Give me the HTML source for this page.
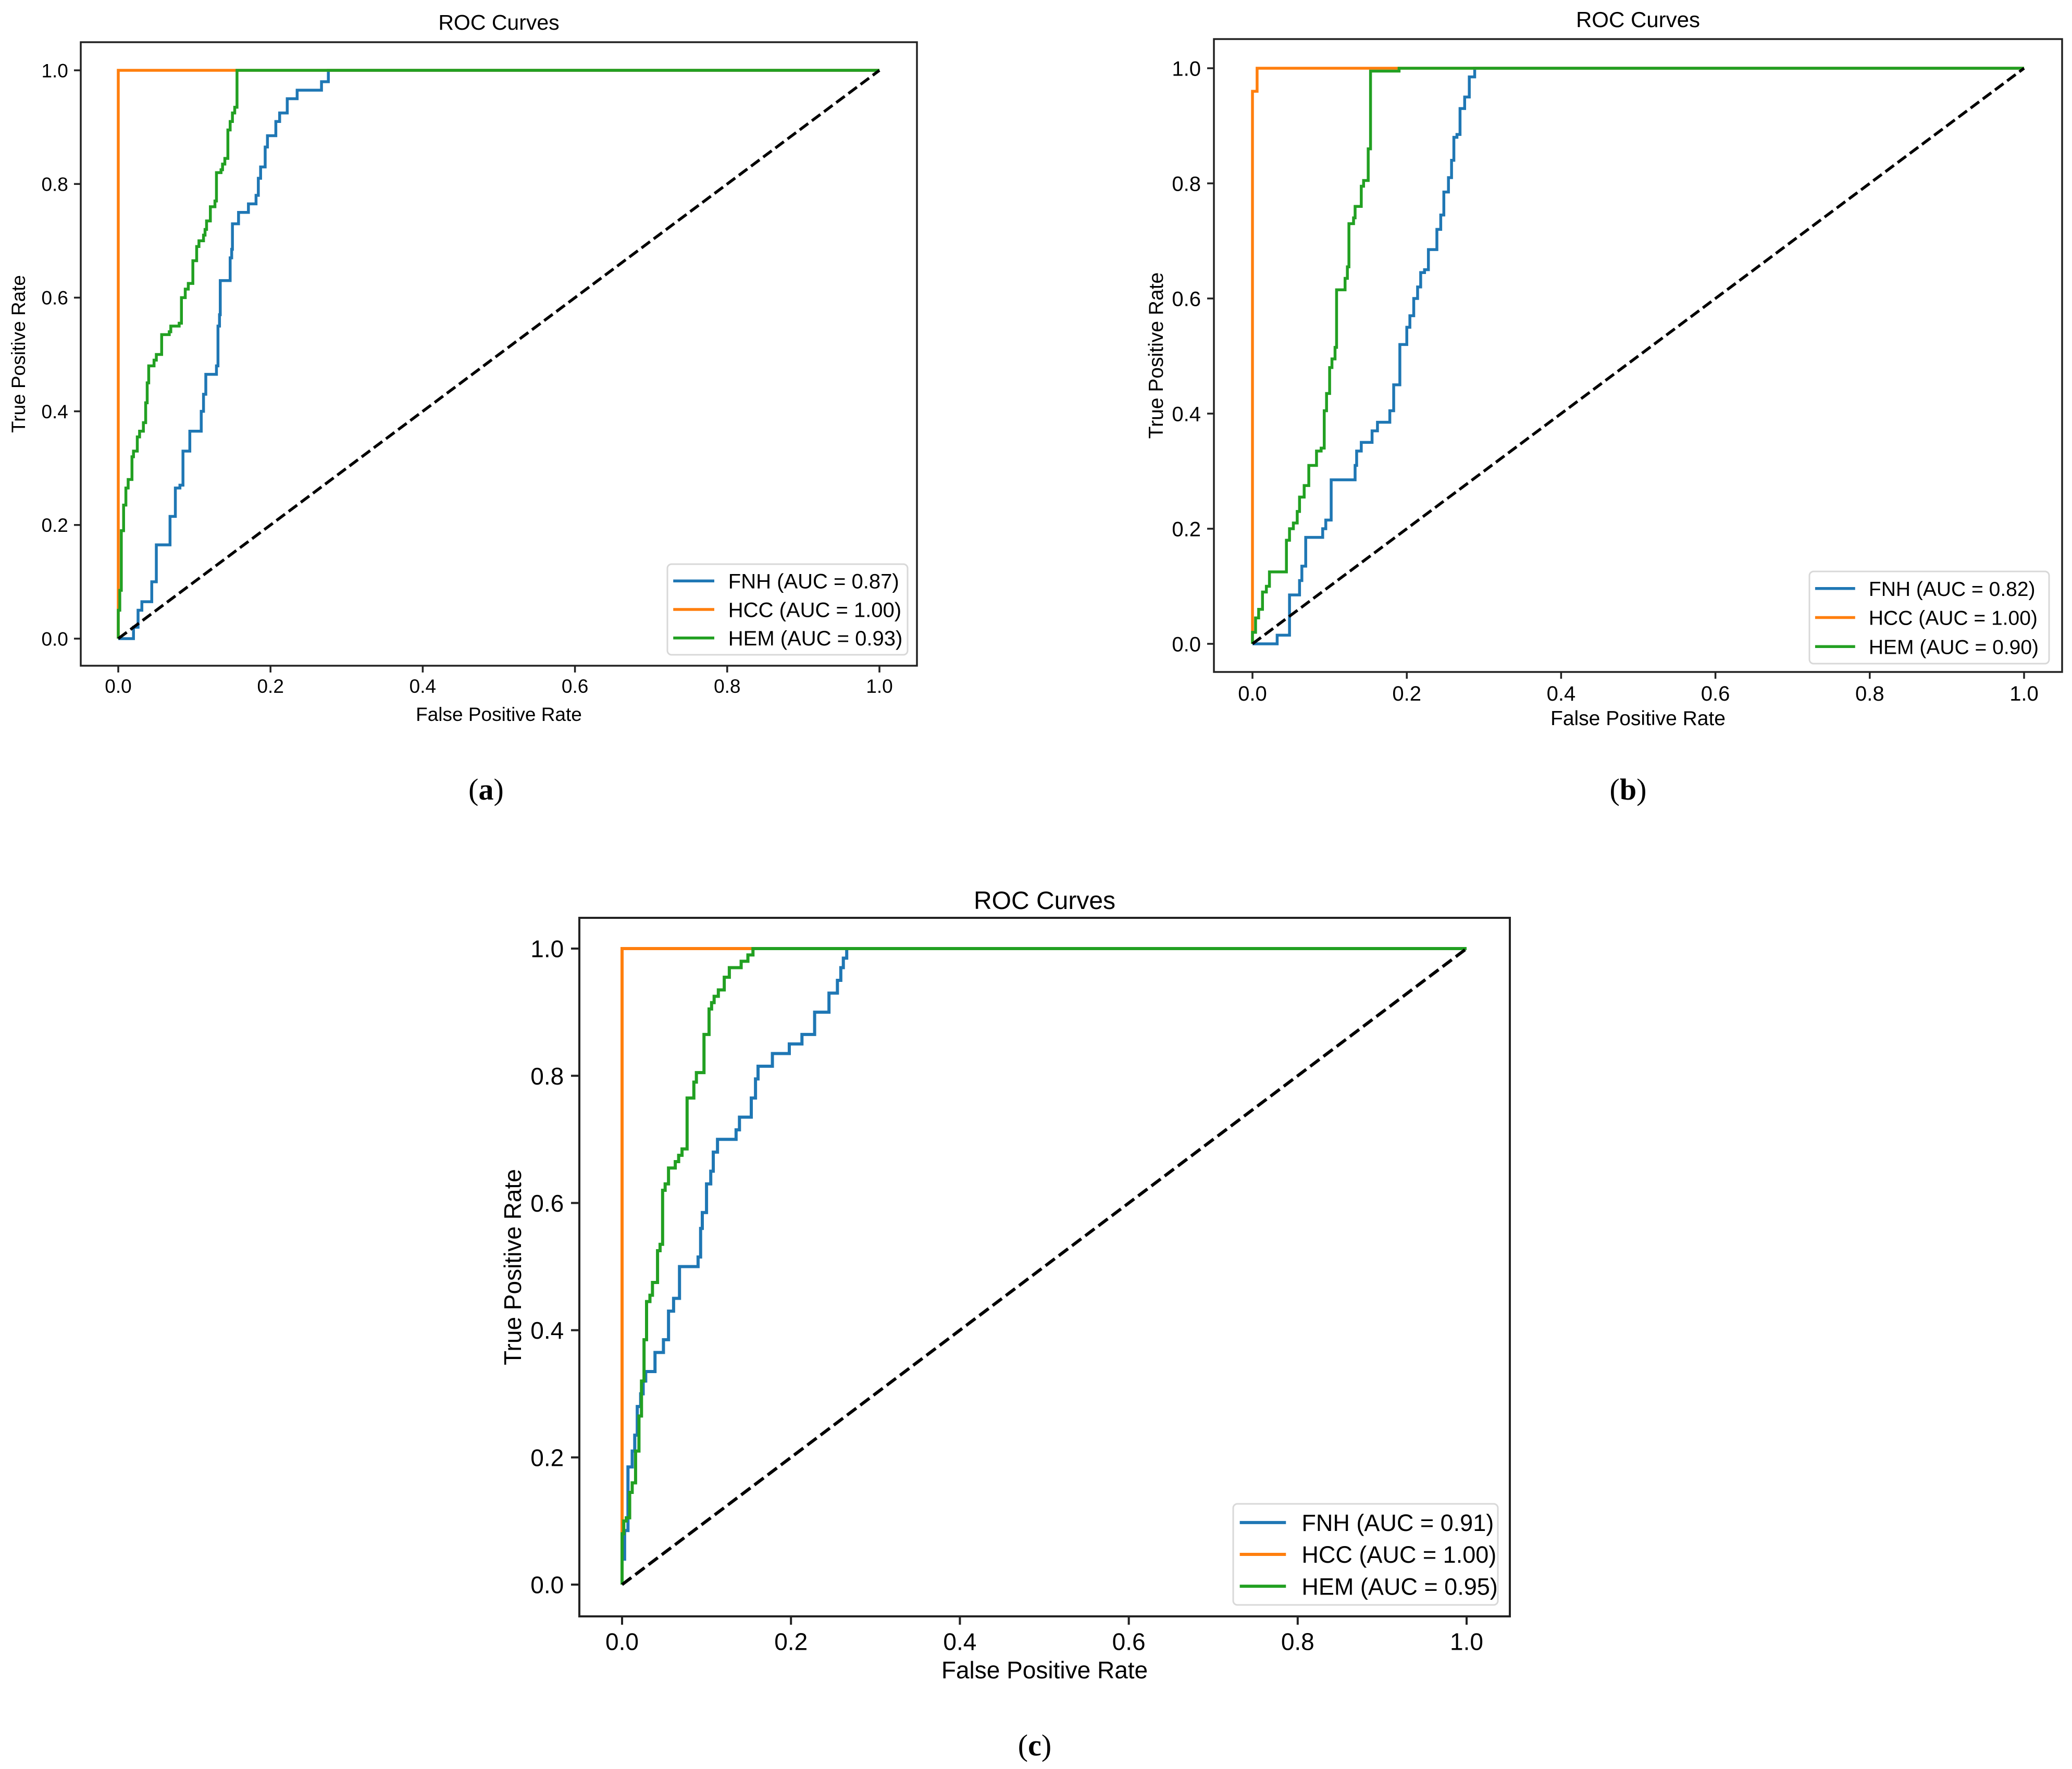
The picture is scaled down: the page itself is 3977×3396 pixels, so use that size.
<!DOCTYPE html>
<html><head><meta charset="utf-8"><style>
html,body{margin:0;padding:0;background:#fff;}
svg{display:block;}
text{font-family:"Liberation Sans","DejaVu Sans",sans-serif;fill:#000;}
</style></head>
<body>
<svg id="fig" xmlns="http://www.w3.org/2000/svg" width="3977" height="3396" viewBox="0 0 3977 3396">
<rect width="3977" height="3396" fill="#fff"/>
</svg>
<script>
// ---- data: panel (a) ----
const aFnhFpr=[0.020,0.026,0.031,0.044,0.050,0.068,0.075,0.081,0.085,0.094,0.109,0.112,0.115,0.129,0.131,0.133,0.134,0.147,0.149,0.150,0.158,0.171,0.181,0.184,0.187,0.193,0.196,0.207,0.212,0.222,0.235,0.267,0.276];
const aFnhTpr=[0.02,0.05,0.065,0.10,0.165,0.215,0.265,0.27,0.33,0.365,0.40,0.43,0.465,0.48,0.55,0.57,0.63,0.67,0.685,0.73,0.75,0.765,0.78,0.81,0.83,0.865,0.885,0.91,0.925,0.95,0.965,0.98,1.0];
const aHemFpr=[0,0.002,0.004,0.007,0.010,0.013,0.018,0.020,0.025,0.028,0.033,0.036,0.038,0.040,0.047,0.050,0.057,0.067,0.069,0.080,0.083,0.088,0.092,0.098,0.103,0.106,0.112,0.114,0.116,0.121,0.127,0.129,0.135,0.137,0.140,0.144,0.147,0.150,0.153,0.156];
const aHemTpr=[0.05,0.085,0.19,0.235,0.265,0.28,0.32,0.33,0.355,0.365,0.38,0.415,0.45,0.48,0.49,0.50,0.535,0.54,0.55,0.555,0.60,0.615,0.625,0.665,0.69,0.70,0.71,0.72,0.735,0.76,0.77,0.82,0.825,0.835,0.845,0.895,0.91,0.925,0.935,1.0];
const aHccFpr=[0];
const aHccTpr=[1.0];
const aAuc=["0.87","1.00","0.93"];
// ---- data: panel (b) ----
const bFnhFpr=[0.032,0.048,0.061,0.064,0.069,0.091,0.095,0.102,0.133,0.135,0.141,0.155,0.162,0.178,0.183,0.191,0.200,0.204,0.209,0.214,0.218,0.223,0.228,0.239,0.244,0.248,0.254,0.258,0.261,0.265,0.269,0.275,0.281,0.288];
const bFnhTpr=[0.015,0.085,0.11,0.135,0.185,0.20,0.215,0.285,0.31,0.335,0.35,0.37,0.385,0.405,0.45,0.52,0.55,0.57,0.60,0.62,0.645,0.65,0.685,0.72,0.745,0.785,0.81,0.84,0.88,0.885,0.93,0.95,0.985,1.0];
const bHemFpr=[0,0.004,0.008,0.013,0.018,0.022,0.044,0.048,0.053,0.058,0.061,0.067,0.073,0.083,0.089,0.093,0.096,0.100,0.103,0.107,0.109,0.120,0.123,0.125,0.131,0.133,0.141,0.144,0.150,0.153,0.190];
const bHemTpr=[0.02,0.045,0.06,0.09,0.10,0.125,0.18,0.20,0.21,0.23,0.255,0.275,0.31,0.335,0.34,0.405,0.435,0.48,0.495,0.515,0.615,0.635,0.655,0.73,0.74,0.76,0.795,0.805,0.86,0.995,1.0];
const bHccFpr=[0,0.006];
const bHccTpr=[0.96,1.0];
const bAuc=["0.82","1.00","0.90"];
// ---- data: panel (c) ----
const cFnhFpr=[0,0.003,0.007,0.012,0.015,0.018,0.022,0.025,0.028,0.039,0.049,0.055,0.061,0.068,0.090,0.093,0.095,0.100,0.105,0.108,0.113,0.135,0.139,0.153,0.158,0.161,0.178,0.198,0.213,0.228,0.245,0.255,0.259,0.262,0.266];
const cFnhTpr=[0.04,0.085,0.185,0.21,0.235,0.28,0.30,0.32,0.335,0.365,0.385,0.43,0.45,0.50,0.515,0.56,0.585,0.63,0.65,0.68,0.70,0.715,0.735,0.765,0.795,0.815,0.835,0.85,0.865,0.90,0.93,0.95,0.97,0.985,1.0];
const cHemFpr=[0,0.002,0.005,0.009,0.012,0.016,0.020,0.023,0.026,0.029,0.033,0.036,0.042,0.045,0.048,0.051,0.055,0.063,0.067,0.071,0.077,0.085,0.088,0.097,0.103,0.106,0.109,0.114,0.121,0.127,0.141,0.149,0.155];
const cHemTpr=[0.08,0.10,0.105,0.145,0.16,0.21,0.265,0.32,0.385,0.445,0.455,0.475,0.525,0.535,0.62,0.63,0.655,0.665,0.675,0.685,0.765,0.79,0.805,0.865,0.905,0.915,0.925,0.935,0.955,0.97,0.98,0.99,1.0];
const cHccFpr=[0];
const cHccTpr=[1.0];
const cAuc=["0.91","1.00","0.95"];
const tickVals=[0,0.2,0.4,0.6,0.8,1.0];
const tickLabels=["0.0","0.2","0.4","0.6","0.8","1.0"];
const classNames=["FNH","HCC","HEM"];

const NS="http://www.w3.org/2000/svg";
const svg=document.getElementById('fig');
const COLORS=["#1f77b4","#ff7f0e","#22a022"];

function mk(tag,attrs,parent){const e=document.createElementNS(NS,tag);for(const k in attrs)e.setAttribute(k,attrs[k]);parent.appendChild(e);return e;}

function stepPath(fpr,tpr,sx,sy){
  let d="M"+sx(0)+","+sy(0);let py=0;
  for(let i=0;i<fpr.length;i++){d+=" L"+sx(fpr[i])+","+sy(py)+" L"+sx(fpr[i])+","+sy(tpr[i]);py=tpr[i];}
  d+=" L"+sx(1)+","+sy(py);
  return d;
}

function panel(id,L,series,auc){
  const g=mk('g',{},svg);
  
  
  const sx=v=>L.x0+(L.x1-L.x0)*v, sy=v=>L.y0-(L.y0-L.y1)*v;
  // series (HEM drawn last like matplotlib order FNH,HCC,HEM)
  series.forEach((s,i)=>{
    const p=mk('path',{d:stepPath(s[0],s[1],sx,sy),fill:'none',stroke:COLORS[i],'stroke-width':L.lw,'stroke-linejoin':'miter'},g);
    
    
  });
  const diag=mk('line',{x1:sx(0),y1:sy(0),x2:sx(1),y2:sy(1),stroke:'#000','stroke-width':L.lw,'stroke-dasharray':(L.lw*3.7)+' '+(L.lw*1.6)},g);
  
  
  // frame
  const fr=mk('rect',{x:L.left,y:L.top,width:L.right-L.left,height:L.bottom-L.top,fill:'none',stroke:'#222','stroke-width':L.sw},g);
  
  
  // ticks
  tickVals.forEach((v,i)=>{
    mk('line',{x1:sx(v),y1:L.bottom,x2:sx(v),y2:L.bottom+L.tl,stroke:'#222','stroke-width':L.sw},g);
    const xt=mk('text',{x:sx(v),y:L.bottom+L.tl+L.tf*1.05,'font-size':L.tf,'text-anchor':'middle'},g);
    xt.textContent=tickLabels[i];
    
    
    mk('line',{x1:L.left,y1:sy(v),x2:L.left-L.tl,y2:sy(v),stroke:'#222','stroke-width':L.sw},g);
    const yt=mk('text',{x:L.left-L.tl-L.tf*0.3,y:sy(v)+L.tf*0.36,'font-size':L.tf,'text-anchor':'end'},g);
    yt.textContent=tickLabels[i];
    
    
  });
  const t=mk('text',{x:(L.left+L.right)/2,y:L.titleY,'font-size':L.titleF,'text-anchor':'middle'},g);
  t.textContent="ROC Curves";
  
  
  const xl=mk('text',{x:(L.left+L.right)/2,y:L.xlabY,'font-size':L.labF,'text-anchor':'middle'},g);
  xl.textContent="False Positive Rate";
  
  
  const cy=(L.top+L.bottom)/2;
  const yl=mk('text',{x:L.ylabX,y:cy,'font-size':L.labF,'text-anchor':'middle',transform:'rotate(-90 '+L.ylabX+' '+cy+')'},g);
  yl.textContent="True Positive Rate";
  
  
  // legend
  const lg=mk('g',{},g);
  
  
  const B=L.leg;
  mk('rect',{x:B[0],y:B[1],width:B[2]-B[0],height:B[3]-B[1],rx:8,fill:'#fff','fill-opacity':0.85,stroke:'#d8d8d8','stroke-width':3},lg);
  for(let i=0;i<3;i++){
    const ry=B[1]+(B[3]-B[1])*(0.5+(i-1)*0.315);
    const e=mk('g',{},lg);
    
    
    mk('line',{x1:B[0]+L.legFs*0.28,y1:ry,x2:B[0]+L.legFs*2.25,y2:ry,stroke:COLORS[i],'stroke-width':L.lw},e);
    const tx=mk('text',{x:B[0]+L.legFs*2.92,y:ry+L.legFs*0.36,'font-size':L.legFs},e);
    tx.textContent=classNames[i]+" (AUC = "+auc[i]+")";
  }
}

panel('a',{left:155,right:1760,top:81,bottom:1278,x0:227,x1:1688,y0:1226,y1:135,lw:5.5,sw:3.5,tl:13,tf:37,titleY:57,titleF:41,xlabY:1384,labF:37,ylabX:48,leg:[1281,1083,1742,1257],legFs:40},
  [[aFnhFpr,aFnhTpr],[aHccFpr,aHccTpr],[aHemFpr,aHemTpr]],aAuc);
panel('b',{left:2330,right:3958,top:75,bottom:1290,x0:2404,x1:3885,y0:1236,y1:131,lw:5.5,sw:3.5,tl:13,tf:40,titleY:52,titleF:42,xlabY:1392,labF:39,ylabX:2232,leg:[3473,1097,3933,1274],legFs:39},
  [[bFnhFpr,bFnhTpr],[bHccFpr,bHccTpr],[bHemFpr,bHemTpr]],bAuc);
panel('c',{left:1112,right:2898,top:1762,bottom:3103,x0:1194,x1:2815,y0:3042,y1:1821,lw:6,sw:4,tl:16,tf:46,titleY:1745,titleF:48,xlabY:3222,labF:46,ylabX:1000,leg:[2367,2887,2875,3081],legFs:45},
  [[cFnhFpr,cFnhTpr],[cHccFpr,cHccTpr],[cHemFpr,cHemTpr]],cAuc);

// captions
[["a",933,1535],["b",3125,1535],["c",1986,3370]].forEach(c=>{
  const t=mk('text',{x:c[1],y:c[2],'font-size':58,'text-anchor':'middle',style:'font-family:"Liberation Serif",serif'},svg);
  
  
  t.appendChild(document.createTextNode('('));
  const b=mk('tspan',{'font-weight':'bold'},t);b.textContent=c[0];
  t.appendChild(document.createTextNode(')'));
});
</script>
</body></html>
